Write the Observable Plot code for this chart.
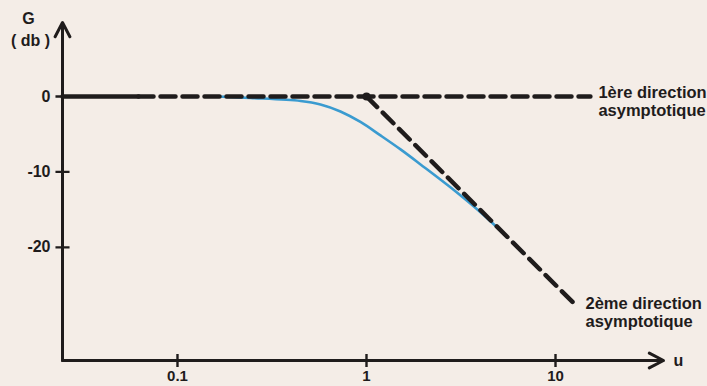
<!DOCTYPE html>
<html>
<head>
<meta charset="utf-8">
<script src="https://cdn.jsdelivr.net/npm/d3@7"></script>
<script src="https://cdn.jsdelivr.net/npm/@observablehq/plot@0.6"></script>
<style>
  html, body { margin: 0; padding: 0; background: #f4ede7; }
  #chart { width: 707px; height: 386px; overflow: hidden; }
</style>
</head>
<body>
<div id="chart"></div>
<script>
// Measured response curve (u, G in dB)
const curveU = [0.163, 0.243, 0.448, 0.571, 0.728, 0.929, 1.186, 1.514, 1.932, 2.78, 4.01, 5.57];
const curveG = [0, -0.2, -0.6, -1.06, -1.99, -3.38, -5.17, -7.02, -9.01, -12.05, -15.36, -18.68];

// Asymptotes
const solidU = [0.02464, 0.0622];
const solidG = [0, 0];
const asym1U = [0.0622, 15.3];
const asym1G = [0, 0];
const asym2U = [1, 13.07];
const asym2G = [0, -27.9];

// Axes
const xDomain = [0.02464, 37.27];
const yDomain = [-35, 9.8];
const xTicks = [0.1, 1, 10];
const yTicks = [0, -10, -20];
const xTickLabels = ["0.1", "1", "10"];
const yTickLabels = ["0", "-10", "-20"];

// Labels
const labelText = ["1ère direction\nasymptotique", "2ème direction\nasymptotique"];
const labelU = [15.3, 13.07];
const labelG = [0, -27.9];

const ink = "#1f1c1c";
const font = "'Liberation Sans', Arial, sans-serif";

const curve = curveU.map((u, i) => ({u, g: curveG[i]}));
const seg = (us, gs) => us.map((u, i) => ({u, g: gs[i]}));

const plot = Plot.plot({
  width: 707,
  height: 386,
  marginLeft: 62,
  marginRight: 44,
  marginTop: 22,
  marginBottom: 26,
  style: {background: "#f4ede7", fontFamily: font, fontWeight: "bold", color: ink, overflow: "visible"},
  x: {type: "log", domain: xDomain, axis: null},
  y: {domain: yDomain, axis: null},
  marks: [
    // blue response curve
    Plot.line(curve, {x: "u", y: "g", stroke: "#3a9bd0", strokeWidth: 2.6, curve: "catmull-rom"}),
    // asymptotes
    Plot.line(seg(solidU, solidG), {x: "u", y: "g", stroke: ink, strokeWidth: 4.5}),
    Plot.line(seg(asym1U, asym1G), {x: "u", y: "g", stroke: ink, strokeWidth: 4.5, strokeDasharray: "15,7"}),
    Plot.line(seg(asym2U, asym2G), {x: "u", y: "g", stroke: ink, strokeWidth: 4.5, strokeDasharray: "15,8"}),
    Plot.dot([{u: asym2U[0], g: asym2G[0]}], {x: "u", y: "g", r: 4, fill: ink}),
    // axes with arrows
    Plot.arrow([{x1: xDomain[0], y1: yDomain[0], x2: xDomain[0], y2: yDomain[1]}],
      {x1: "x1", y1: "y1", x2: "x2", y2: "y2", stroke: ink, strokeWidth: 3, headLength: 8, headAngle: 55}),
    Plot.arrow([{x1: xDomain[0], y1: yDomain[0], x2: xDomain[1], y2: yDomain[0]}],
      {x1: "x1", y1: "y1", x2: "x2", y2: "y2", stroke: ink, strokeWidth: 3, headLength: 8, headAngle: 55}),
    // cross ticks
    Plot.dot(yTicks, {x: () => xDomain[0], y: d => d, symbol: "plus", r: 4.6, stroke: ink, strokeWidth: 2.4}),
    Plot.dot(xTicks, {x: d => d, y: () => yDomain[0], symbol: "plus", r: 4.2, stroke: ink, strokeWidth: 2.4}),
    // tick labels
    Plot.text(yTicks, {x: () => xDomain[0], y: d => d, text: (d, i) => yTickLabels[i], dx: -12, textAnchor: "end", fontSize: 16, fill: ink}),
    Plot.text(xTicks, {x: d => d, y: () => yDomain[0], text: (d, i) => xTickLabels[i], dy: 10, lineAnchor: "top", fontSize: 15, fill: ink}),
    // axis titles
    Plot.text(["G"], {x: () => xDomain[0], y: () => yDomain[1], dx: -34, dy: -4, fontSize: 16, fill: ink}),
    Plot.text(["( db )"], {x: () => xDomain[0], y: () => yDomain[1], dx: -32, dy: 18, fontSize: 16, fill: ink}),
    Plot.text(["u"], {x: () => xDomain[1], y: () => yDomain[0], dx: 10, textAnchor: "start", fontSize: 16, fill: ink}),
    // asymptote labels
    Plot.text(labelText, {x: labelU, y: labelG, text: d => d, dx: 8, dy: -11, textAnchor: "start", lineAnchor: "top", lineHeight: 1.1, fontSize: 16.5, fill: ink})
  ]
});
document.getElementById("chart").appendChild(plot);
</script>
</body>
</html>
